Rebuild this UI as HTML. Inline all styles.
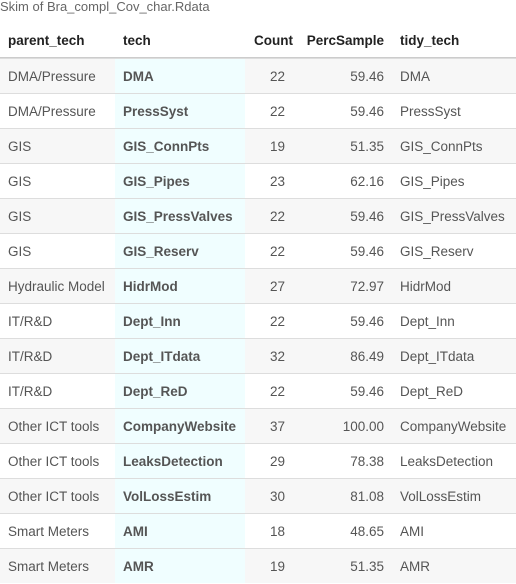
<!DOCTYPE html>
<html><head><meta charset="utf-8"><style>
body{margin:0;width:516px;height:583px;overflow:hidden;background:#fff;font-family:"Liberation Sans",sans-serif;}
#t{position:absolute;left:0;top:-1px;font-size:13px;color:#666;}
.r{position:absolute;left:0;width:516px;height:35px;border-top:1px solid #ddd;box-sizing:border-box;}
.r.s{background:#f7f7f7}
.c{position:absolute;top:0;line-height:35px;font-size:13.5px;color:#555;white-space:nowrap}
.h .c{color:#222;font-weight:bold;line-height:34px}
.tc{position:absolute;left:115px;width:130px;top:0;bottom:0;background:#f0feff}
#hdr{position:absolute;left:0;top:24px;width:516px;height:33px;border-bottom:2px solid #ccc;}
</style></head><body>
<div id="t">Skim of Bra_compl_Cov_char.Rdata</div>
<div id="hdr" class="h">
<div class="c" style="left:8px">parent_tech</div>
<div class="c" style="left:123px">tech</div>
<div class="c" style="right:223px">Count</div>
<div class="c" style="right:132px">PercSample</div>
<div class="c" style="left:400px">tidy_tech</div>
</div>
<div id="body"></div>
<script>
const parents=["DMA/Pressure","DMA/Pressure","GIS","GIS","GIS","GIS","Hydraulic Model","IT/R&D","IT/R&D","IT/R&D","Other ICT tools","Other ICT tools","Other ICT tools","Smart Meters","Smart Meters"];
const techs=["DMA","PressSyst","GIS_ConnPts","GIS_Pipes","GIS_PressValves","GIS_Reserv","HidrMod","Dept_Inn","Dept_ITdata","Dept_ReD","CompanyWebsite","LeaksDetection","VolLossEstim","AMI","AMR"];
const counts=[22,22,19,23,22,22,27,22,32,22,37,29,30,18,19];
const percs=["59.46","59.46","51.35","62.16","59.46","59.46","72.97","59.46","86.49","59.46","100.00","78.38","81.08","48.65","51.35"];
const b=document.getElementById('body');
techs.forEach((t,i)=>{
 const r=document.createElement('div');
 
 
 r.className='r'+(i%2==0?' s':'');
 r.style.top=(58+35*i)+'px';
 r.innerHTML='<div class="tc"></div>'+
 '<div class="c" style="left:8px">'+parents[i].replace('&','&amp;')+'</div>'+
 '<div class="c" style="left:123px;font-weight:bold">'+t+'</div>'+
 '<div class="c" style="right:231px">'+counts[i]+'</div>'+
 '<div class="c" style="right:132px">'+percs[i]+'</div>'+
 '<div class="c" style="left:400px">'+t+'</div>';
 b.appendChild(r);
});
</script>
</body></html>
